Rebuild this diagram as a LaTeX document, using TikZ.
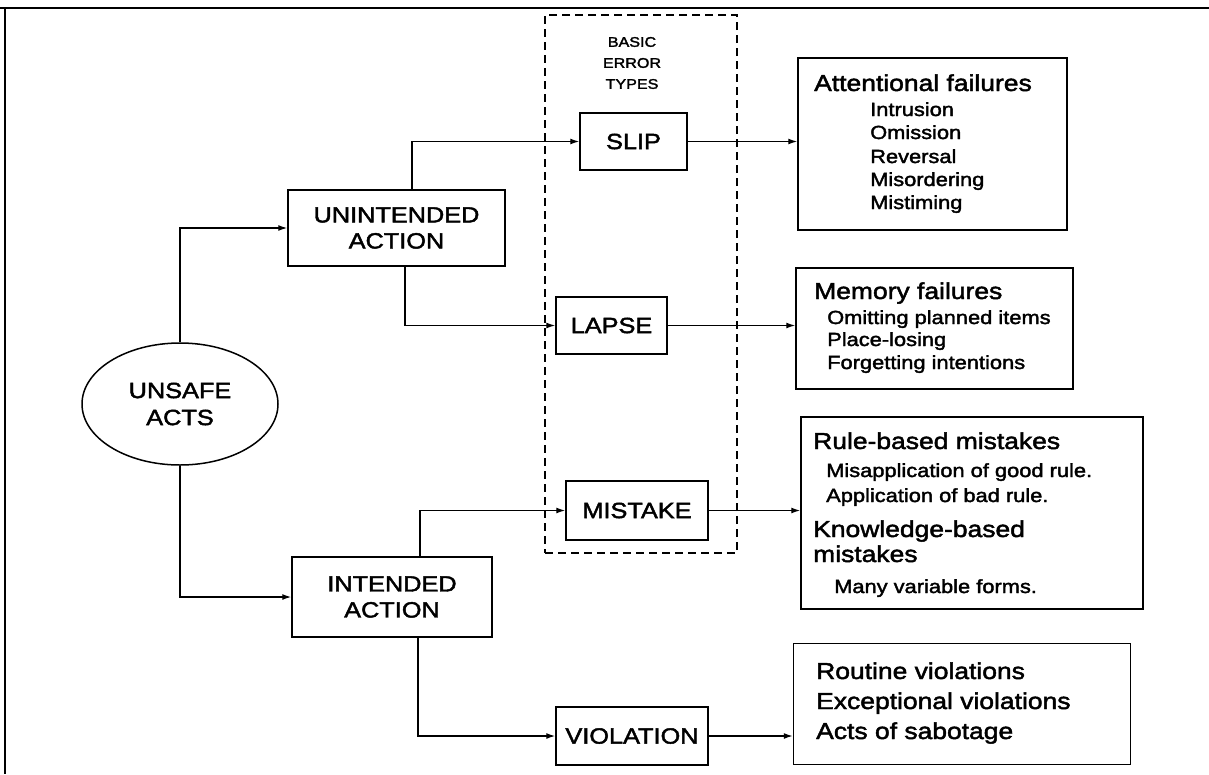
\documentclass[tikz,border=0pt]{standalone}
\usepackage{fontspec}
\setmainfont[FakeStretch=1.15,FakeBold=2]{Liberation Sans}
\usetikzlibrary{arrows.meta,shapes.geometric}
\begin{document}
\begin{tikzpicture}[x=1pt,y=-1pt,
  box/.style={draw,line width=1.5pt,rectangle,inner sep=0pt,align=center,
    font=\fontsize{22}{26}\selectfont},
  conn/.style={line width=1.3pt,-{Latex[length=9pt,width=6pt]}},
  ttl/.style={anchor=base west,inner sep=0pt,font=\fontsize{23}{26}\selectfont},
  itm/.style={anchor=base west,inner sep=0pt,font=\fontsize{19}{22}\selectfont},
  frame/.style={line width=2.2pt}]
\useasboundingbox (0,0) rectangle (1209,774);
% outer frame
\coordinate (f1) at (0,8);
\coordinate (f2) at (1209,8);
\coordinate (f3) at (5,8);
\coordinate (f4) at (5,774);
\draw[frame] (f1) -- (f2);
\draw[frame] (f3) -- (f4);

% dashed group
\node[draw,dash pattern=on 8pt off 5pt,line width=1.5pt,minimum width=192pt,minimum height=538pt,inner sep=0pt] (grp) at (641,284) {};
\node[align=center,font=\fontsize{14}{21}\selectfont] (bet) at (632,63) {BASIC\\ERROR\\TYPES};

% main nodes
\node[draw,ellipse,line width=1.5pt,minimum width=196pt,minimum height=122pt,inner sep=0pt,align=center,font=\fontsize{22}{27}\selectfont] (ua) at (180,404) {UNSAFE\\ACTS};
\node[box,minimum width=217pt,minimum height=76pt] (uia) at (396.5,228) {UNINTENDED\\ACTION};
\node[box,minimum width=200pt,minimum height=80pt] (ia) at (392,597) {INTENDED\\ACTION};

\node[box,minimum width=107pt,minimum height=57pt] (slip) at (633.5,141.5) {SLIP};
\node[box,minimum width=111pt,minimum height=57pt] (lapse) at (611.5,325.5) {LAPSE};
\node[box,minimum width=142pt,minimum height=59pt] (mist) at (637,510.5) {MISTAKE};
\node[box,minimum width=152pt,minimum height=58pt] (viol) at (632,736) {VIOLATION};

% right boxes
\node[draw,line width=1.5pt,minimum width=269pt,minimum height=172pt,inner sep=0pt] (att) at (932.5,144) {};
\node[ttl] (att0) at (814,91) {Attentional failures};
\node[itm] (att1) at (870,116) {Intrusion};
\node[itm] (att2) at (870,139) {Omission};
\node[itm] (att3) at (870,163) {Reversal};
\node[itm] (att4) at (870,186) {Misordering};
\node[itm] (att5) at (870,209) {Mistiming};

\node[draw,line width=1.5pt,minimum width=277pt,minimum height=121pt,inner sep=0pt] (mem) at (934.5,328.5) {};
\node[ttl] (mem0) at (814,299) {Memory failures};
\node[itm] (mem1) at (827,324) {Omitting planned items};
\node[itm] (mem2) at (827,346) {Place-losing};
\node[itm] (mem3) at (827,369) {Forgetting intentions};

\node[draw,line width=1.5pt,minimum width=342pt,minimum height=192pt,inner sep=0pt] (rule) at (972,513) {};
\node[ttl] (rule0) at (813,449) {Rule-based mistakes};
\node[itm] (rule1) at (826,477) {Misapplication of good rule.};
\node[itm] (rule2) at (826,502) {Application of bad rule.};
\node[ttl] (rule3) at (813,537) {Knowledge-based};
\node[ttl] (rule4) at (813,562) {mistakes};
\node[itm] (rule5) at (834,593) {Many variable forms.};

\node[draw,line width=1.5pt,minimum width=337pt,minimum height=121pt,inner sep=0pt] (vo) at (962,704) {};
\node[ttl] (vo1) at (816,679) {Routine violations};
\node[ttl] (vo2) at (816,709) {Exceptional violations};
\node[ttl] (vo3) at (816,739) {Acts of sabotage};

% connectors
\draw[conn] (ua.north) |- (uia.west);
\draw[conn] (ua.south) |- (ia.west);
\draw[conn] (uia.north -| 412,0) |- (slip.west);
\draw[conn] (uia.south -| 405,0) |- (lapse.west);
\draw[conn] (ia.north -| 420,0) |- (mist.west);
\draw[conn] (ia.south -| 418,0) |- (viol.west);
\draw[conn] (slip.east) -- (slip.east -| att.west);
\draw[conn] (lapse.east) -- (lapse.east -| mem.west);
\draw[conn] (mist.east) -- (mist.east -| rule.west);
\draw[conn] (viol.east) -- (viol.east -| vo.west);
\end{tikzpicture}
\end{document}
